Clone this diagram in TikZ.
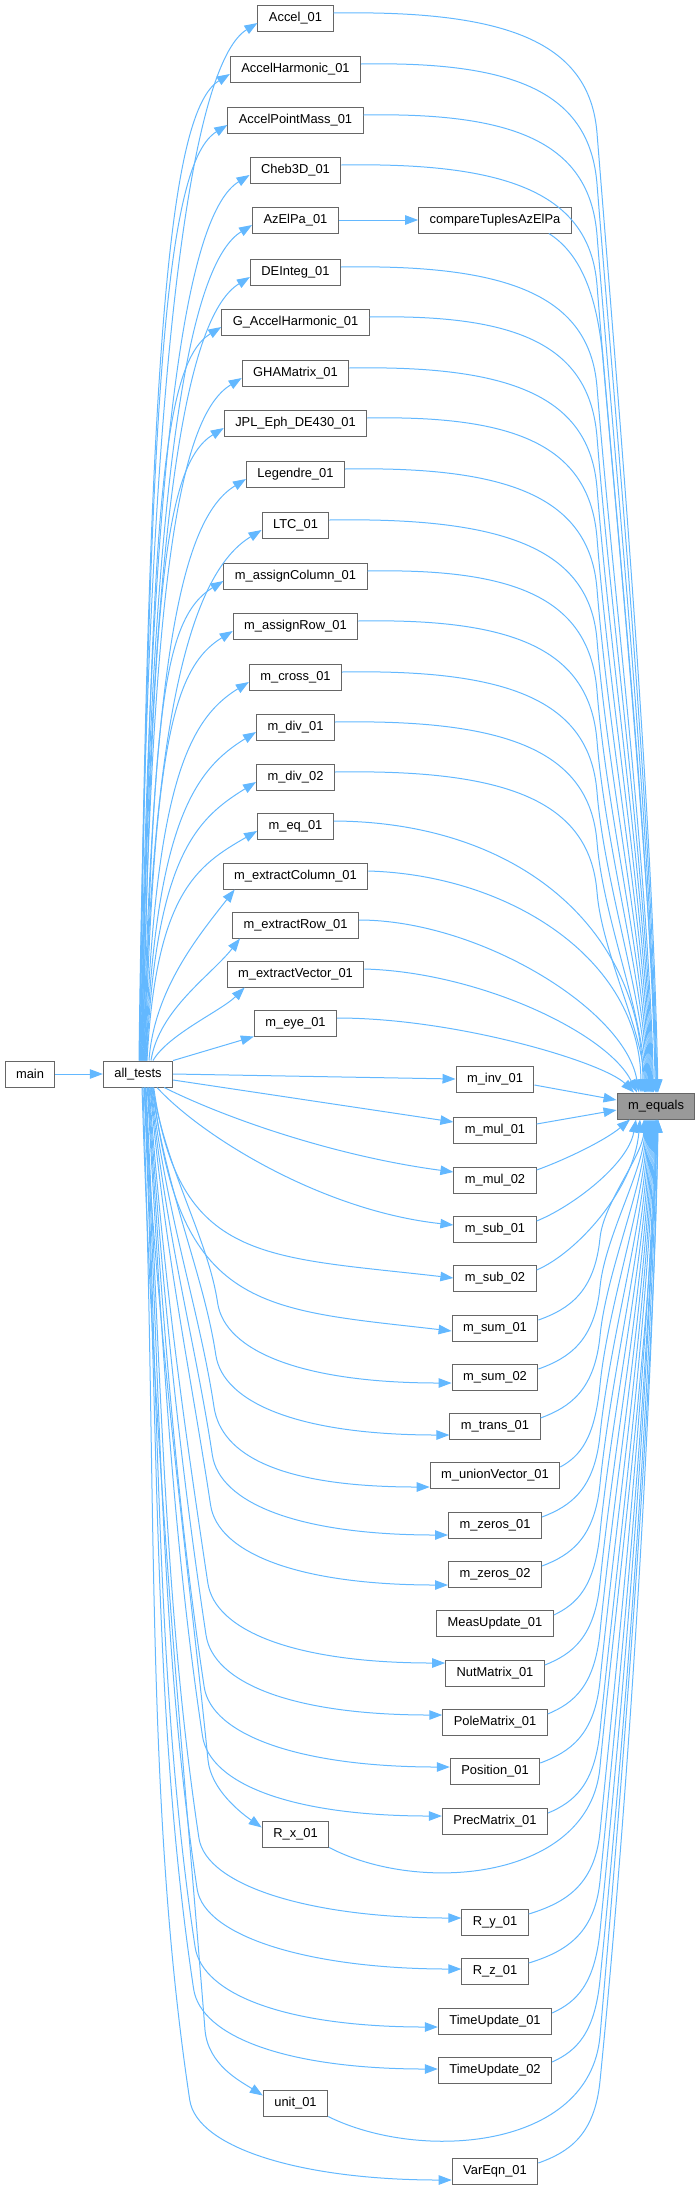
\documentclass[tikz,border=0pt]{standalone}
\usepackage{fontspec}
\setmainfont{Liberation Sans}
\usetikzlibrary{arrows.meta,calc}
\definecolor{edgeblue}{HTML}{63B8FF}
\definecolor{boxline}{HTML}{666666}
\definecolor{boxfill}{HTML}{999999}
% all_tests -> node above (left column)
\newcommand\AtoL[3]{%
  \pgfmathsetmacro\rsD{1056-#2}%
  \pgfmathsetmacro\rsPa{-0.73*\rsD}%
  \pgfmathsetmacro\rsPb{5+min(37,0.15*\rsD)}%
  \draw[edge] ($(at.north)+(#3,0)$) .. controls ($(at.north)+(#3+9,\rsPa)$) and ($(#1.west)+(-60,\rsPb)$) .. ($(#1.west)+(0,5)$);}
% left node -> m_equals (top)
\newcommand\LtoM[4]{%
  \pgfmathsetmacro\rsH{min(115,0.4*(1093-#2))}%
  \pgfmathsetmacro\rsWy{#2+\rsH}%
  \pgfmathsetmacro\rsQx{#4-0.064*\rsH}%
  \pgfmathsetmacro\rsQy{#2+0.2*\rsH}%
  \pgfmathsetmacro\rsM{0.3*(1093-\rsWy)}%
  \pgfmathsetmacro\rsRx{#4+0.08*\rsM}%
  \pgfmathsetmacro\rsRy{\rsWy+\rsM}%
  \pgfmathsetmacro\rsSx{#3-0.02*\rsM}%
  \draw[edge] ($(#1.east)+(0,-5)$) .. controls ($(#1.east)!0.65!(#4,#2-12)$) and (\rsQx,\rsQy) .. (#4,\rsWy) .. controls (\rsRx,\rsRy) and ($(me.north)+(\rsSx,-\rsM)$) .. ($(me.north)+(#3,0)$);}
% all_tests -> node below (right column)
\newcommand\AtoR[3]{%
  \pgfmathsetmacro\rsEy{#2+#3}%
  \pgfmathsetmacro\rsD{\rsEy-1087}%
  \pgfmathsetmacro\rsSx{18-0.012*\rsD}%
  \ifdim\rsD pt<250pt
    \pgfmathsetmacro\rsPa{0.92*\rsD}%
    \draw[edge] ($(at.south)+(\rsSx,0)$) .. controls ($(at.south)+(\rsSx+25,\rsPa)$) and ($(#1.west)+(-190,#3-22)$) .. ($(#1.west)+(0,#3)$);%
  \else
    \pgfmathsetmacro\rsVx{228-0.035*\rsD}%
    \pgfmathsetmacro\rsVy{\rsEy-80}%
    \pgfmathsetmacro\rsL{\rsVy-1087}%
    \pgfmathsetmacro\rsAy{0.4*\rsL}%
    \pgfmathsetmacro\rsBx{\rsVx-0.045*\rsL}%
    \pgfmathsetmacro\rsBy{\rsVy-0.3*\rsL}%
    \pgfmathsetmacro\rsCx{\rsVx+7.2}%
    \pgfmathsetmacro\rsCy{\rsVy+48}%
    \draw[edge] ($(at.south)+(\rsSx,0)$) .. controls ($(at.south)+(\rsSx+15,\rsAy)$) and (\rsBx,\rsBy) .. (\rsVx,\rsVy) .. controls (\rsCx,\rsCy) and ($(#1.west)+(-150,#3)$) .. ($(#1.west)+(0,#3)$);%
  \fi}
% right node -> m_equals (bottom)
\newcommand\RtoM[4]{%
  \pgfmathsetmacro\rsH{min(90,0.45*(#2-1119))}%
  \pgfmathsetmacro\rsWy{#2-\rsH}%
  \pgfmathsetmacro\rsK{0.6*\rsH}%
  \pgfmathsetmacro\rsQx{#4-0.1*\rsK}%
  \pgfmathsetmacro\rsQy{\rsWy+\rsK}%
  \pgfmathsetmacro\rsM{0.3*(\rsWy-1119)}%
  \pgfmathsetmacro\rsRx{#4+0.1*\rsM}%
  \pgfmathsetmacro\rsRy{\rsWy-\rsM}%
  \pgfmathsetmacro\rsSx{#3-0.02*\rsM}%
  \draw[edge] ($(#1.east)+(0,-8)$) .. controls ($(#1.east)!0.5!(#4,#2-38)$) and (\rsQx,\rsQy) .. (#4,\rsWy) .. controls (\rsRx,\rsRy) and ($(me.south)+(\rsSx,\rsM)$) .. ($(me.south)+(#3,0)$);}
\begin{document}
\begin{tikzpicture}[x=1pt,y=-1pt,
  box/.style={draw=boxline, line width=1pt, fill=white, minimum height=26pt,
    inner xsep=11pt, inner ysep=0pt, font=\fontsize{12.9pt}{15pt}\selectfont},
  edge/.style={draw=edgeblue, line width=1pt, -{Triangle[length=13pt,width=9.5pt]}}]
\useasboundingbox (0,0) rectangle (700,2190);
% ---- nodes
\node[box] (main) at (30,1074) {main};
\node[box] (at) at (138,1074) {all\_tests};
\node[box, fill=boxfill] (me) at (656,1106) {m\_equals};
% left column
\node[box] (acc)  at (295.5,18)   {Accel\_01};
\node[box] (ah)   at (295.5,69)   {AccelHarmonic\_01};
\node[box] (apm)  at (295.5,120)  {AccelPointMass\_01};
\node[box] (cheb) at (295.5,170)  {Cheb3D\_01};
\node[box] (azel) at (295.5,220)  {AzElPa\_01};
\node[box] (dei)  at (295.5,272)  {DEInteg\_01};
\node[box] (gah)  at (295.5,322)  {G\_AccelHarmonic\_01};
\node[box] (gha)  at (295.5,373)  {GHAMatrix\_01};
\node[box] (jpl)  at (295.5,423)  {JPL\_Eph\_DE430\_01};
\node[box] (leg)  at (295.5,474)  {Legendre\_01};
\node[box] (ltc)  at (295.5,525)  {LTC\_01};
\node[box] (mac)  at (295.5,576)  {m\_assignColumn\_01};
\node[box] (mar)  at (295.5,626)  {m\_assignRow\_01};
\node[box] (mcr)  at (295.5,677)  {m\_cross\_01};
\node[box] (md1)  at (295.5,727)  {m\_div\_01};
\node[box] (md2)  at (295.5,777)  {m\_div\_02};
\node[box] (meq)  at (295.5,826)  {m\_eq\_01};
\node[box] (mec)  at (295.5,876)  {m\_extractColumn\_01};
\node[box] (mer)  at (295.5,925)  {m\_extractRow\_01};
\node[box] (mev)  at (295.5,974)  {m\_extractVector\_01};
\node[box] (mey)  at (295.5,1023) {m\_eye\_01};
\node[box] (rx)   at (295.5,1834) {R\_x\_01};
\node[box] (ux)   at (295.5,2103) {unit\_01};
% right column
\node[box] (cmp)  at (495,220)  {compareTuplesAzElPa};
\node[box] (inv)  at (495,1079) {m\_inv\_01};
\node[box] (mu1)  at (495,1130) {m\_mul\_01};
\node[box] (mu2)  at (495,1180) {m\_mul\_02};
\node[box] (su1)  at (495,1229) {m\_sub\_01};
\node[box] (su2)  at (495,1278) {m\_sub\_02};
\node[box] (sm1)  at (495,1328) {m\_sum\_01};
\node[box] (sm2)  at (495,1377) {m\_sum\_02};
\node[box] (mtr)  at (495,1426) {m\_trans\_01};
\node[box] (muv)  at (495,1475) {m\_unionVector\_01};
\node[box] (mz1)  at (495,1525) {m\_zeros\_01};
\node[box] (mz2)  at (495,1574) {m\_zeros\_02};
\node[box] (meas) at (495,1623) {MeasUpdate\_01};
\node[box] (nut)  at (495,1673) {NutMatrix\_01};
\node[box] (pole) at (495,1722) {PoleMatrix\_01};
\node[box] (pos)  at (495,1771) {Position\_01};
\node[box] (prec) at (495,1821) {PrecMatrix\_01};
\node[box] (ry)   at (495,1922) {R\_y\_01};
\node[box] (rz)   at (495,1971) {R\_z\_01};
\node[box] (tu1)  at (495,2021) {TimeUpdate\_01};
\node[box] (tu2)  at (495,2070) {TimeUpdate\_02};
\node[box] (var)  at (495,2171) {VarEqn\_01};
% ---- simple edges
\draw[edge] (main) -- (at);
\draw[edge] (azel) -- (cmp);
% ---- all_tests -> left column
\AtoL{acc}{18}{1}
\AtoL{ah}{69}{1.5}
\AtoL{apm}{120}{2}
\AtoL{cheb}{170}{2.5}
\AtoL{azel}{220}{3}
\AtoL{dei}{272}{3.5}
\AtoL{gah}{322}{4}
\AtoL{gha}{373}{4.5}
\AtoL{jpl}{423}{5}
\AtoL{leg}{474}{5.5}
\AtoL{ltc}{525}{6}
\AtoL{mac}{576}{6.5}
\AtoL{mar}{626}{7}
\AtoL{mcr}{677}{7.5}
\AtoL{md1}{727}{8}
\AtoL{md2}{777}{8.5}
\AtoL{meq}{826}{9}
\draw[edge] ($(at.north)+(11,0)$) .. controls ($(at.north)+(16,-71)$) and ($(mec.south west)+(-24,46)$) .. ($(mec.south west)+(12,0)$);
\draw[edge] ($(at.north)+(13,0)$) .. controls ($(at.north)+(21,-51)$) and ($(mer.south west)+(-21,37)$) .. ($(mer.south west)+(8,0)$);
\draw[edge] ($(at.north)+(15,0)$) .. controls ($(at.north)+(30,-26)$) and ($(mev.south west)+(-5,23)$) .. ($(mev.south west)+(18,0)$);
\draw[edge] (at.north east) -- (mey.south west);
% ---- left column -> m_equals
\LtoM{acc}{18}{2}{597}
\LtoM{ah}{69}{1.1}{597}
\LtoM{apm}{120}{0.2}{597}
\LtoM{cheb}{170}{-0.7}{597}
\LtoM{dei}{272}{-2.5}{597}
\LtoM{gah}{322}{-3.4}{597}
\LtoM{gha}{373}{-4.3}{597}
\LtoM{jpl}{423}{-5.2}{597}
\LtoM{leg}{474}{-6.1}{597}
\LtoM{ltc}{525}{-7}{597}
\LtoM{mac}{576}{-7.9}{597}
\LtoM{mar}{626}{-8.8}{597}
\LtoM{mcr}{677}{-9.7}{597}
\LtoM{md1}{727}{-10.6}{597}
\LtoM{md2}{777}{-11.5}{597}
\draw[edge] ($(meq.east)+(0,-5)$) .. controls ($(meq.east)+(186,-4)$) and ($(me.north)+(-14,-163)$) .. ($(me.north)+(-13,0)$);
\draw[edge] ($(mec.east)+(0,-5)$) .. controls ($(mec.east)+(142,-1)$) and ($(me.north)+(-16,-133)$) .. ($(me.north)+(-15,0)$);
\draw[edge] ($(mer.east)+(0,-5)$) .. controls ($(mer.east)+(120,-5)$) and ($(me.north)+(-31,-83)$) .. ($(me.north)+(-17,0)$);
\draw[edge] ($(mev.east)+(0,-5)$) .. controls ($(mev.east)+(114,-2)$) and ($(me.north)+(-49,-60)$) .. ($(me.north)+(-19,0)$);
\draw[edge] ($(mey.east)+(0,-5)$) .. controls ($(mey.east)+(120,-5)$) and ($(me.north)+(-52,-30)$) .. ($(me.north)+(-22,0)$);
\draw[edge] ($(cmp.south east)+(-23,0)$) .. controls (578,252) and (597,290) .. (603,360) .. controls (609,432) and (651,880) .. ($(me.north)+(1,0)$);
% ---- all_tests -> right column
\draw[edge] (at.east) -- (inv.west);
\draw[edge] ($(at.east)+(0,6)$) -- ($(mu1.west)+(0,-8)$);
\draw[edge] ($(at.south east)+(-9,0)$) .. controls ($(at.south east)+(51,30)$) and ($(mu2.west)+(-120,-24)$) .. ($(mu2.west)+(0,-8)$);
\draw[edge] ($(at.south)+(19,0)$) .. controls ($(at.south)+(65,50)$) and ($(su1.west)+(-130,-18)$) .. ($(su1.west)+(0,-4)$);
\AtoR{su2}{1278}{0}
\AtoR{sm1}{1328}{3}
\AtoR{sm2}{1377}{6}
\AtoR{mtr}{1426}{9}
\AtoR{muv}{1475}{12}
\AtoR{mz1}{1525}{10}
\AtoR{mz2}{1574}{11}
\AtoR{nut}{1673}{-10}
\AtoR{pole}{1722}{-7}
\AtoR{pos}{1771}{-4}
\AtoR{prec}{1821}{-5}
\AtoR{ry}{1922}{-4}
\AtoR{rz}{1971}{-2}
\AtoR{tu1}{2021}{6}
\AtoR{tu2}{2070}{-1}
\AtoR{var}{2171}{9}
\draw[edge] ($(at.south)+(6,0)$) .. controls ($(at.south)+(21,270)$) and (188,1560) .. (208,1760) .. controls (211,1790) and ($(rx.north west)+(-20,-7)$) .. ($(rx.north west)+(0,7)$);
\draw[edge] ($(at.south)+(4,0)$) .. controls ($(at.south)+(16,380)$) and (183,1750) .. (205,2030) .. controls (208,2065) and ($(ux.north west)+(-22,-8)$) .. ($(ux.north west)+(0,6)$);
% ---- right column -> m_equals
\draw[edge] ($(inv.east)+(0,6)$) -- ($(me.west)+(0,-6)$);
\draw[edge] ($(mu1.east)+(0,-6)$) -- ($(me.west)+(0,4)$);
\draw[edge] ($(mu2.east)+(0,-10)$) .. controls ($(mu2.east)+(28,-20)$) and ($(me.south)+(-51,21)$) .. ($(me.south)+(-26,0)$);
\draw[edge] ($(su1.east)+(0,-8)$) .. controls ($(su1.east)+(35,-22)$) and ($(me.south)+(-28,45)$) .. ($(me.south)+(-20,0)$);
\draw[edge] ($(su2.east)+(0,-8)$) .. controls ($(su2.east)+(40,-25)$) and ($(me.south)+(-22,70)$) .. ($(me.south)+(-16,0)$);
\RtoM{sm1}{1328}{-12}{600}
\RtoM{sm2}{1377}{-11}{600}
\RtoM{mtr}{1426}{-10}{600}
\RtoM{muv}{1475}{-9}{600}
\RtoM{mz1}{1525}{-8}{600}
\RtoM{mz2}{1574}{-7}{600}
\RtoM{meas}{1623}{-6}{600}
\RtoM{nut}{1673}{-5}{600}
\RtoM{pole}{1722}{-4}{600}
\RtoM{pos}{1771}{-3}{600}
\RtoM{prec}{1821}{-2}{600}
\RtoM{ry}{1922}{-1}{600}
\RtoM{rz}{1971}{0}{600}
\RtoM{tu1}{2021}{0}{600}
\RtoM{tu2}{2070}{1}{600}
\RtoM{var}{2171}{2}{600}
\draw[edge] (rx.south east) .. controls (420,1895) and (590,1880) .. (600,1767) .. controls (610,1655) and (653,1313) .. ($(me.south)+(1,0)$);
\draw[edge] (ux.south east) .. controls (420,2162) and (590,2150) .. (600,2036) .. controls (612,1900) and (655,1394) .. ($(me.south)+(2,0)$);
\end{tikzpicture}
\end{document}
